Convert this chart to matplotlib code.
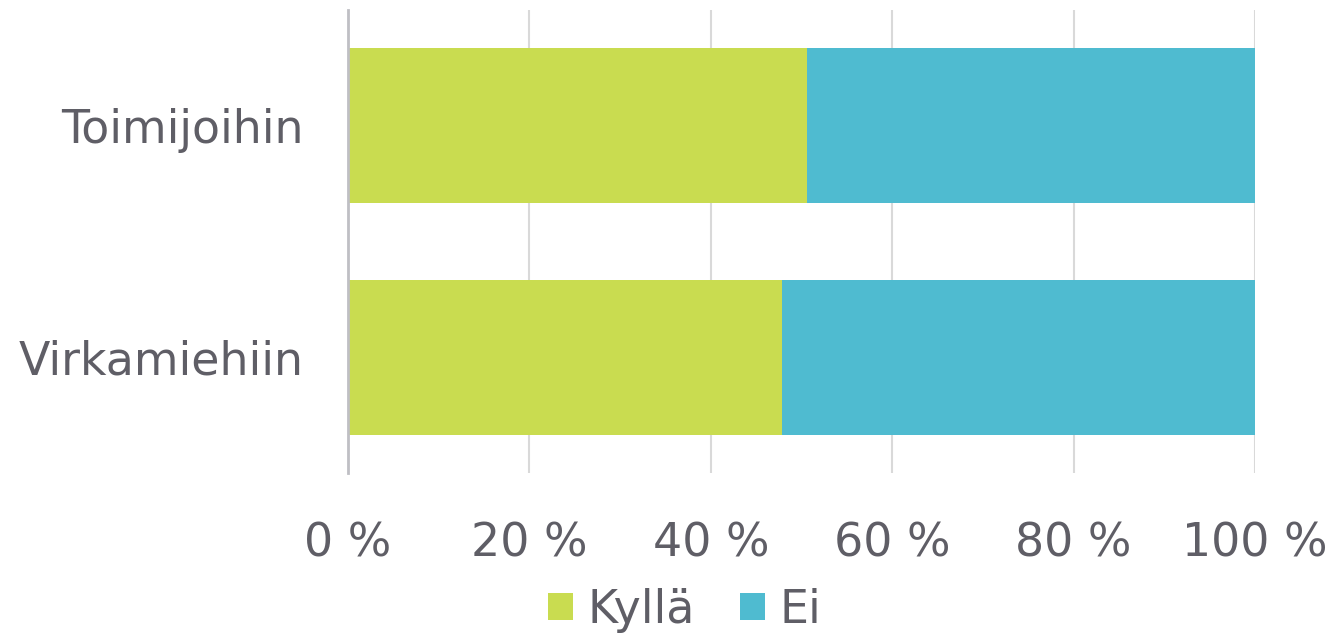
import matplotlib
matplotlib.use("Agg")
import matplotlib.pyplot as plt
import numpy as np

categories = ["Virkamiehiin", "Toimijoihin"]
kylla = [47.8, 50.6]
ei = [52.2, 49.4]
series_names = ["Kyllä", "Ei"]
xticks = [0, 20, 40, 60, 80, 100]
xticklabels = ["0 %", "20 %", "40 %", "60 %", "80 %", "100 %"]

green = "#C9DC50"
blue = "#4FBBD0"
textc = "#5F5E66"

plt.rcParams['font.family'] = ['DejaVu Sans']
fig = plt.figure(figsize=(13.37, 6.39), dpi=100)
ax = fig.add_axes([0.2603, 0.2598, 0.9387 - 0.2603, 0.9844 - 0.2598])

y = np.arange(len(categories))
ax.barh(y, kylla, height=0.668, color=green, label=series_names[0], zorder=2)
ax.barh(y, ei, left=kylla, height=0.668, color=blue, label=series_names[1], zorder=2)

ax.set_xlim(0, 100)
ax.set_ylim(-0.5, 1.5)
ax.set_xticks(xticks)
ax.set_xticklabels(xticklabels)
ax.set_yticks(y)
ax.set_yticklabels(categories)
ax.tick_params(axis='x', length=0, pad=35, labelsize=33, labelcolor=textc)
ax.tick_params(axis='y', length=0, pad=32, labelsize=33, labelcolor=textc)
ax.xaxis.grid(True, color="#D9D9D9", linewidth=1.5, zorder=0)
ax.set_axisbelow(True)
for s in ["top", "right", "bottom"]:
    ax.spines[s].set_visible(False)
ax.spines["left"].set_color("#BFBFC4")
ax.spines["left"].set_linewidth(2)
ax.spines["left"].set_zorder(3)

leg = fig.legend(loc="center", bbox_to_anchor=(0.512, 0.045), ncol=2, frameon=False,
                 fontsize=33, handlelength=0.55, handleheight=0.55, handletextpad=0.3,
                 columnspacing=1.0, labelcolor=textc)

fig.savefig("out.png", dpi=100)
